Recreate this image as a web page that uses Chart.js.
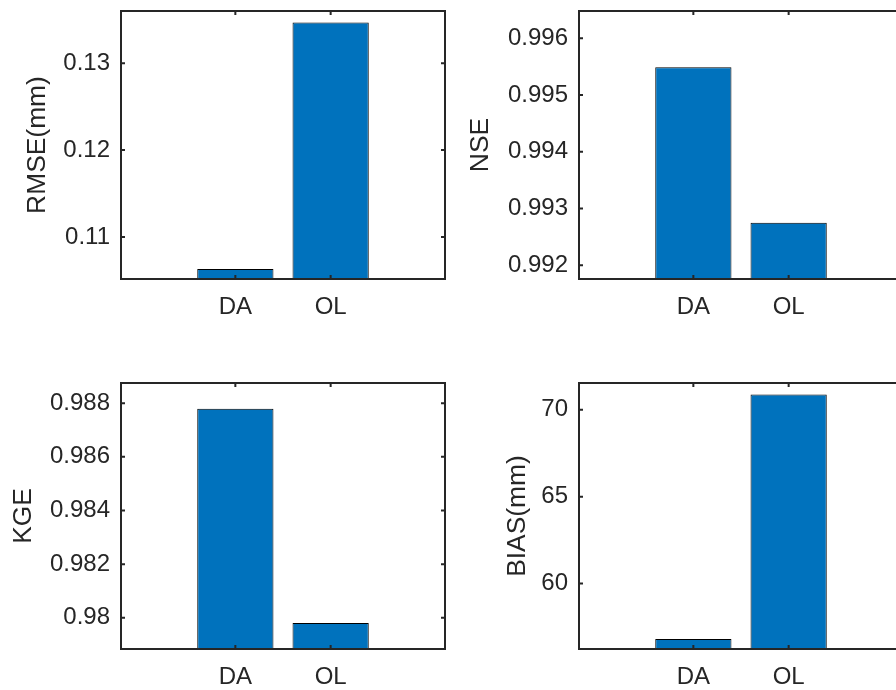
<!DOCTYPE html>
<html>
<head>
<meta charset="utf-8">
<script src="https://cdn.jsdelivr.net/npm/chart.js@4.4.0/dist/chart.umd.min.js"></script>
<style>
  html, body { margin: 0; padding: 0; background: #fff; overflow: hidden; width: 896px; height: 690px; }
  canvas { position: absolute; }
</style>
</head>
<body>
<canvas id="rmseChart" width="448" height="340" style="left:0;top:0"></canvas>
<canvas id="nseChart" width="460" height="340" style="left:448px;top:0"></canvas>
<canvas id="kgeChart" width="448" height="350" style="left:0;top:340px"></canvas>
<canvas id="biasChart" width="460" height="350" style="left:448px;top:340px"></canvas>
<script>
// categories shared by all four panels
var categories = ['DA', 'OL'];

// metric values
var rmseValues = [0.1063, 0.1347];
var nseValues = [0.99549, 0.99275];
var kgeValues = [0.98779, 0.97981];
var biasValues = [56.81, 70.88];

// y tick values of each panel
var rmseTicks = [0.11, 0.12, 0.13];
var nseTicks = [0.992, 0.993, 0.994, 0.995, 0.996];
var kgeTicks = [0.98, 0.982, 0.984, 0.986, 0.988];
var biasTicks = [60, 65, 70];

// y axis limits of each panel
var rmseRange = [0.10515, 0.13603];
var nseRange = [0.99176, 0.99648];
var kgeRange = [0.97884, 0.98875];
var biasRange = [56.23, 71.54];

// x axis limits (category positions are 1 and 2)
var xRange = [-0.2, 3.2];

var textColor = '#262626';
Chart.defaults.font.family = '"Liberation Sans", Arial, Helvetica, sans-serif';
Chart.defaults.color = textColor;

// draws the closed axes box and the inward tick marks, matlab style
var boxPlugin = {
    id: 'matlabBox',
    afterDraw: function(chart) {
        var ctx = chart.ctx;
        var a = chart.chartArea;
        var xs = chart.scales.x;
        var ys = chart.scales.y;
        var len = 4;
        ctx.save();
        ctx.strokeStyle = textColor;
        ctx.lineWidth = 2;
        ctx.beginPath();
        xs.ticks.forEach(function(t) {
            var px = xs.getPixelForValue(t.value);
            ctx.moveTo(px, a.bottom); ctx.lineTo(px, a.bottom - len);
            ctx.moveTo(px, a.top); ctx.lineTo(px, a.top + len);
        });
        ys.ticks.forEach(function(t) {
            var py = ys.getPixelForValue(t.value);
            ctx.moveTo(a.left, py); ctx.lineTo(a.left + len, py);
            ctx.moveTo(a.right, py); ctx.lineTo(a.right - len, py);
        });
        ctx.stroke();
        ctx.strokeRect(a.left, a.top, a.right - a.left, a.bottom - a.top);
        ctx.restore();
    }
};

function makeChart(id, title, values, ticks, range, box) {
    var canvas = document.getElementById(id);
    var points = [];
    for (var i = 0; i < values.length; i++) {
        points.push({ x: i + 1, y: values[i] });
    }
    return new Chart(canvas.getContext('2d'), {
        type: 'bar',
        data: {
            datasets: [{
                data: points,
                backgroundColor: '#0072BD',
                borderColor: '#000000',
                borderWidth: 1,
                borderSkipped: 'bottom',
                barPercentage: 0.8,
                categoryPercentage: 1,
                clip: 0
            }]
        },
        plugins: [boxPlugin],
        options: {
            responsive: false,
            animation: false,
            layout: { padding: { top: box.top, right: box.right, left: 0, bottom: 0 } },
            plugins: { legend: { display: false }, tooltip: { enabled: false } },
            scales: {
                x: {
                    type: 'linear',
                    min: xRange[0],
                    max: xRange[1],
                    offset: false,
                    grid: { display: false, drawTicks: false },
                    border: { display: false },
                    afterBuildTicks: function(scale) {
                        scale.ticks = categories.map(function(c, i) { return { value: i + 1 }; });
                    },
                    afterFit: function(scale) {
                        scale.height = box.xHeight;
                        scale.paddingLeft = 0;
                        scale.paddingRight = 0;
                    },
                    ticks: {
                        padding: 14,
                        maxRotation: 0,
                        font: { size: 24 },
                        callback: function(v) { return categories[v - 1]; }
                    }
                },
                y: {
                    min: range[0],
                    max: range[1],
                    grid: { display: false, drawTicks: false },
                    border: { display: false },
                    afterBuildTicks: function(scale) {
                        scale.ticks = ticks.map(function(v) { return { value: v }; });
                    },
                    afterFit: function(scale) {
                        scale.width = box.yWidth;
                        scale.paddingTop = 0;
                        scale.paddingBottom = 0;
                    },
                    ticks: {
                        padding: 11,
                        font: { size: 24 },
                        callback: function(v) { return String(v); }
                    },
                    title: {
                        display: true,
                        text: title,
                        font: { size: 26.4 },
                        padding: { top: box.titlePad, bottom: 0 }
                    }
                }
            }
        }
    });
}

makeChart('rmseChart', 'RMSE(mm)', rmseValues, rmseTicks, rmseRange,
    { top: 11, right: 3, xHeight: 61, yWidth: 121, titlePad: 22 });
makeChart('nseChart', 'NSE', nseValues, nseTicks, nseRange,
    { top: 11, right: 5, xHeight: 61, yWidth: 131, titlePad: 17 });
makeChart('kgeChart', 'KGE', kgeValues, kgeTicks, kgeRange,
    { top: 43, right: 3, xHeight: 41, yWidth: 121, titlePad: 7.5 });
makeChart('biasChart', 'BIAS(mm)', biasValues, biasTicks, biasRange,
    { top: 43, right: 5, xHeight: 41, yWidth: 131, titlePad: 54 });
</script>
</body>
</html>
